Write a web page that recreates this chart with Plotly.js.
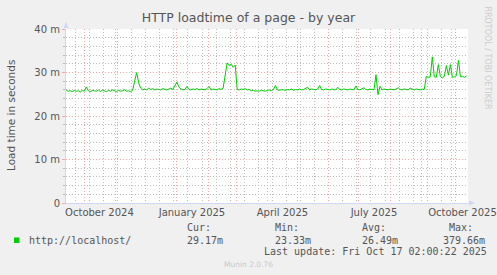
<!DOCTYPE html>
<html>
<head>
<meta charset="utf-8">
<script src="https://cdn.plot.ly/plotly-3.0.1.min.js"></script>
<style>
html,body{margin:0;padding:0;background:#f0f0f0;}
#chart{width:497px;height:275px;}
</style>
</head>
<body>
<div id="chart"></div>
<script>
// ---- data ----
const seriesName = "http://localhost/";
const startDate = "2024-09-13";
const stepDays = 2;
// load time in milliseconds, one value every 2 days
const loadTimeMs = [
  25.9, 25.7, 25.8, 25.6, 25.9, 25.7, 25.8, 25.5, 25.9, 25.7,
  26.7, 25.8, 25.6, 25.9, 25.8, 25.7, 26.0, 25.6, 25.9, 25.8,
  25.6, 25.9, 25.7, 26.0, 25.8, 25.6, 25.9, 25.7, 25.8, 26.0,
  25.7, 25.8, 25.6, 25.9, 28.0, 30.0, 27.6, 26.4, 26.0, 26.2,
  26.0, 26.4, 26.1, 26.3, 26.0, 26.2, 26.1, 26.0, 26.3, 26.1,
  26.0, 26.2, 26.4, 26.1, 26.9, 27.8, 26.7, 26.2, 26.0, 26.1,
  26.8, 26.1, 26.0, 26.2, 26.1, 26.3, 26.0, 26.2, 26.1, 26.0,
  26.3, 26.8, 26.0, 26.2, 26.1, 26.0, 26.3, 26.1, 26.4, 29.5,
  32.2, 31.6, 31.9, 31.2, 31.7, 26.1, 26.0, 26.2, 26.1, 26.3,
  26.0, 26.1, 25.8, 25.9, 25.7, 25.8, 25.7, 25.9, 25.8, 25.7,
  25.9, 26.0, 25.8, 26.1, 27.0, 26.0, 25.9, 26.1, 26.0, 25.9,
  26.1, 26.0, 26.2, 25.9, 26.1, 26.0, 26.2, 26.0, 26.1, 26.3,
  26.6, 26.0, 26.2, 26.1, 26.0, 26.2, 27.0, 26.1, 26.0, 26.2,
  26.1, 26.0, 26.2, 26.1, 26.0, 26.6, 26.1, 26.0, 26.2, 26.1,
  26.0, 26.2, 26.1, 26.0, 26.9, 26.1, 26.0, 26.2, 26.5, 26.1,
  26.0, 26.2, 26.1, 26.0, 29.5, 24.9, 26.8, 26.0, 26.2, 26.1,
  26.0, 26.2, 26.1, 26.0, 26.2, 26.5, 26.1, 26.0, 26.2, 26.1,
  26.0, 26.4, 26.1, 26.0, 26.2, 26.1, 26.0, 26.2, 26.1, 29.1,
  28.9, 29.0, 33.6, 29.0, 28.9, 31.8, 29.1, 28.7, 29.2, 31.6,
  29.4, 31.8, 28.9, 29.0, 29.3, 32.8, 29.0, 29.1, 28.9, 29.2
];
const yTickVals = [0, 10, 20, 30, 40];
const yTickText = ["0", "10 m", "20 m", "30 m", "40 m"];
const xLabelVals = ["2024-10-16", "2025-01-16", "2025-04-16", "2025-07-16", "2025-10-12"];
const xLabelText = ["October 2024", "January 2025", "April 2025", "July 2025", "October 2025"];
const statNames = ["Cur:", "Min:", "Avg:", "Max:"];
const statValues = ["29.17m", "23.33m", "26.49m", "379.66m"];
const lastUpdate = "Last update: Fri Oct 17 02:00:22 2025";

// dates for each sample
const dates = loadTimeMs.map((v, i) => {
  const d = new Date(startDate + "T00:00:00Z");
  d.setUTCDate(d.getUTCDate() + i * stepDays);
  return d.toISOString().slice(0, 10);
});

// fortnightly minor grid positions
const minorGrid = [];
for (let d = new Date("2024-09-22T00:00:00Z"); d < new Date("2025-10-18T00:00:00Z"); d.setUTCDate(d.getUTCDate() + 14)) {
  minorGrid.push(d.toISOString().slice(0, 10));
}

const xRange = ["2024-09-12 18:00", "2025-10-17 12:00"];
const FONT = "DejaVu Sans, sans-serif";
const MONO = "DejaVu Sans Mono, monospace";
const TXT = "#555555";
const MAJ = "#eeaaaa";
const MIN = "#bdbdbd";
const AXC = "#cfd6f8";
const DOT = "1px,2px";

// plot area in pixels
const PL = 66, PR = 468, PT = 29, PB = 203;
function px(x){ return (x - PL) / (PR - PL); }
function py(y){ return (PB - y) / (PB - PT); }

const traces = [{
  x: xLabelVals, y: xLabelVals.map(() => null), xaxis: "x2", yaxis: "y",
  type: "scatter", mode: "lines", showlegend: false, hoverinfo: "skip"
}, {
  x: xLabelVals, y: xLabelVals.map(() => null), xaxis: "x3", yaxis: "y",
  type: "scatter", mode: "lines", showlegend: false, hoverinfo: "skip"
}, {
  x: dates, y: loadTimeMs, type: "scatter", mode: "lines", xaxis: "x", yaxis: "y",
  line: {color: "#00cc00", width: 1}, hoverinfo: "skip", showlegend: false
}];

const legendRow = 240, statHeadRow = 227.5, updRow = 251.5;
const headX = [185, 272.7, 360, 446.7];
const valX = [185, 273.3, 360, 441];
const layoutAnn = [];
layoutAnn.push({xref:"paper", yref:"paper", x:px(26.5), y:py(legendRow), xanchor:"left", yanchor:"middle",
  text: seriesName, showarrow:false, font:{family:MONO, size:10, color:TXT}});
statNames.forEach((n, i) => {
  layoutAnn.push({xref:"paper", yref:"paper", x:px(headX[i]), y:py(statHeadRow), xanchor:"left", yanchor:"middle",
    text: n, showarrow:false, font:{family:MONO, size:10, color:TXT}});
  layoutAnn.push({xref:"paper", yref:"paper", x:px(valX[i]), y:py(legendRow), xanchor:"left", yanchor:"middle",
    text: statValues[i], showarrow:false, font:{family:MONO, size:10, color:TXT}});
});
layoutAnn.push({xref:"paper", yref:"paper", x:px(261.5), y:py(updRow), xanchor:"left", yanchor:"middle",
  text: lastUpdate, showarrow:false, font:{family:MONO, size:10, color:TXT}});
layoutAnn.push({xref:"paper", yref:"paper", x:px(248), y:py(264), xanchor:"center", yanchor:"middle",
  text: "Munin 2.0.76", showarrow:false, font:{family:FONT, size:7.5, color:"#c8c8c8"}});
layoutAnn.push({xref:"paper", yref:"paper", x:px(487), y:py(4), xanchor:"center", yanchor:"top",
  text: "RRDTOOL / TOBI OETIKER", textangle: 90, showarrow:false, font:{family:FONT, size:8, color:"#cccccc"}});
layoutAnn.push({xref:"paper", yref:"paper", x:px(11), y:py(116), xanchor:"center", yanchor:"middle",
  text: "Load time in seconds", textangle: -90, showarrow:false, font:{family:FONT, size:10.5, color:TXT}});

const shapes = [
  {type:"rect", xref:"paper", yref:"paper", x0:px(14), x1:px(19.5), y0:py(243), y1:py(237.5), fillcolor:"#00cc00", line:{width:0}},
  {type:"path", xref:"paper", yref:"paper",
   path:"M " + px(63.5) + "," + py(28) + " L " + px(68.5) + "," + py(28) + " L " + px(66) + "," + py(22) + " Z",
   fillcolor:AXC, line:{width:0}},
  {type:"path", xref:"paper", yref:"paper",
   path:"M " + px(469) + "," + py(200.5) + " L " + px(469) + "," + py(205.5) + " L " + px(475) + "," + py(203) + " Z",
   fillcolor:AXC, line:{width:0}}
];

const layout = {
  width: 497, height: 275,
  margin: {l: PL, r: 497 - PR, t: PT, b: 275 - PB, pad: 0},
  paper_bgcolor: "#f0f0f0", plot_bgcolor: "#ffffff",
  font: {family: FONT, size: 10, color: TXT},
  title: {text: "HTTP loadtime of a page - by year", font: {family: FONT, size: 12.5, color: TXT},
          x: 0.5, xref: "container", xanchor: "center", y: 1 - 18/275, yanchor: "middle"},
  showlegend: false,
  xaxis: {
    type: "date", range: xRange, tickmode: "array", tickvals: minorGrid,
    showticklabels: false, ticks: "",
    showgrid: true, gridcolor: MIN, griddash: DOT, gridwidth: 1,
    showline: true, linecolor: AXC, linewidth: 1, zeroline: false, fixedrange: true
  },
  xaxis3: {
    type: "date", range: xRange, overlaying: "x", anchor: "y", side: "bottom",
    dtick: "M1", tick0: "2024-10-01", showticklabels: false, ticks: "",
    showgrid: true, gridcolor: MAJ, griddash: DOT, gridwidth: 1,
    showline: false, zeroline: false
  },
  xaxis2: {
    type: "date", range: xRange, overlaying: "x", anchor: "y", side: "bottom",
    tickmode: "array", tickvals: xLabelVals, ticktext: xLabelText,
    showgrid: false, showline: false, ticks: "", zeroline: false,
    ticklabeloverflow: "allow",
    tickfont: {family: FONT, size: 10, color: TXT}, ticklabelstandoff: 2
  },
  yaxis: {
    range: [0, 40], tickmode: "array", tickvals: yTickVals, ticktext: yTickText,
    tickfont: {family: FONT, size: 10, color: TXT},
    showgrid: true, gridcolor: MAJ, griddash: DOT, gridwidth: 1,
    ticks: "outside", ticklen: 3, tickcolor: MAJ,
    minor: {dtick: 2, showgrid: true, gridcolor: MIN, griddash: DOT, ticks: "outside", ticklen: 2, tickcolor: "#bbbbbb"},
    showline: true, linecolor: AXC, linewidth: 1, zeroline: false, fixedrange: true
  },
  shapes: shapes,
  annotations: layoutAnn
};

Plotly.newPlot("chart", traces, layout, {staticPlot: true, displayModeBar: false});
</script>
</body>
</html>
